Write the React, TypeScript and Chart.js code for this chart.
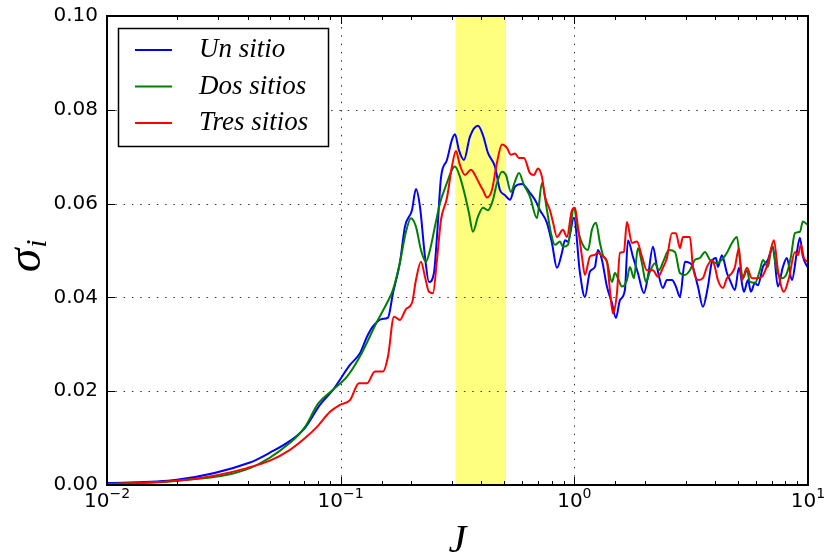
import React, { useEffect, useRef } from "react";
import { Chart, registerables } from "chart.js";

Chart.register(...registerables);

const seriesLabels = ["Un sitio", "Dos sitios", "Tres sitios"];
const seriesColors = ["#0000ff", "#008000", "#ff0000"];

const jUn = [0.0100,0.0199,0.0409,0.0498,0.0607,0.0704,0.0815,0.0927,0.1096,0.1209,0.1296,0.1375,0.1502,0.1594,0.1674,0.1794,0.1884,0.2019,0.2100,0.2185,0.2295,0.2387,0.2507,0.2583,0.2687,0.2850,0.2994,0.3084,0.3207,0.3370,0.3575,0.3869,0.4064,0.4269,0.4574,0.4805,0.5047,0.5302,0.5569,0.5967,0.6457,0.6783,0.7126,0.7635,0.8021,0.8425,0.8850,0.9117,0.9389,0.9961,1.057,1.110,1.166,1.225,1.262,1.313,1.379,1.449,1.507,1.567,1.646,1.696,1.781,1.871,1.986,2.065,2.170,2.258,2.394,2.490,2.616,2.722,2.831,2.974,3.186,3.380,3.551,3.730,3.880,4.036,4.116,4.281,4.498,4.633,4.867,5.062,5.318,5.532,5.699,5.927,6.105,6.412,6.736,7.076,7.434,7.810,8.124,8.534,8.964,9.234,9.510,10];
const sigmaUn = [0.0004,0.0011,0.0048,0.0069,0.0094,0.0122,0.0171,0.0203,0.0256,0.0281,0.0316,0.0338,0.0354,0.0357,0.0409,0.0475,0.0551,0.0586,0.0631,0.0593,0.0487,0.0433,0.0452,0.0529,0.0655,0.0693,0.0736,0.0748,0.0714,0.0693,0.0743,0.0766,0.0746,0.0708,0.0679,0.0629,0.0618,0.0608,0.0636,0.0642,0.0623,0.0608,0.0586,0.0559,0.0516,0.0463,0.0495,0.0522,0.0519,0.0570,0.0452,0.0401,0.0455,0.0465,0.0501,0.0480,0.0423,0.0388,0.0356,0.0394,0.0416,0.0522,0.0487,0.0452,0.0409,0.0444,0.0508,0.0465,0.0420,0.0437,0.0437,0.0423,0.0401,0.0476,0.0469,0.0423,0.0380,0.0423,0.0476,0.0484,0.0465,0.0490,0.0452,0.0437,0.0416,0.0463,0.0412,0.0437,0.0412,0.0431,0.0426,0.0465,0.0480,0.0508,0.0423,0.0465,0.0484,0.0437,0.0497,0.0527,0.0487,0.0463];

const jDos = [0.0100,0.0199,0.0409,0.0607,0.0704,0.0799,0.0927,0.1064,0.1209,0.1430,0.1578,0.1674,0.1794,0.1903,0.1999,0.2100,0.2206,0.2317,0.2411,0.2532,0.2660,0.2850,0.2994,0.3084,0.3239,0.3403,0.3540,0.3682,0.3869,0.4064,0.4269,0.4485,0.4665,0.4900,0.5097,0.5354,0.5569,0.5793,0.6085,0.6457,0.6918,0.7268,0.7635,0.7942,0.8260,0.8678,0.8938,0.9389,0.9961,1.036,1.088,1.144,1.189,1.237,1.287,1.326,1.379,1.449,1.492,1.537,1.598,1.679,1.729,1.799,1.871,1.947,2.025,2.106,2.213,2.301,2.418,2.540,2.695,2.831,2.974,3.124,3.282,3.448,3.622,3.804,4.076,4.281,4.498,4.725,4.964,5.112,5.265,5.478,5.642,5.927,6.226,6.412,6.736,7.006,7.361,7.733,8.124,8.451,8.790,9.234,9.510,10];
const sigmaDos = [0.0002,0.0009,0.0036,0.0090,0.0124,0.0173,0.0203,0.0231,0.0274,0.0348,0.0388,0.0416,0.0475,0.0540,0.0569,0.0551,0.0501,0.0476,0.0501,0.0551,0.0601,0.0644,0.0672,0.0679,0.0657,0.0618,0.0580,0.0540,0.0572,0.0591,0.0586,0.0608,0.0644,0.0668,0.0661,0.0625,0.0647,0.0665,0.0640,0.0615,0.0569,0.0644,0.0586,0.0537,0.0512,0.0519,0.0508,0.0512,0.0591,0.0544,0.0512,0.0501,0.0544,0.0559,0.0516,0.0490,0.0476,0.0433,0.0452,0.0441,0.0423,0.0437,0.0465,0.0441,0.0505,0.0473,0.0433,0.0455,0.0473,0.0458,0.0480,0.0501,0.0497,0.0452,0.0448,0.0458,0.0480,0.0484,0.0497,0.0480,0.0473,0.0480,0.0495,0.0516,0.0529,0.0480,0.0441,0.0458,0.0433,0.0431,0.0458,0.0480,0.0465,0.0508,0.0458,0.0441,0.0452,0.0487,0.0537,0.0540,0.0562,0.0554];

const jTres = [0.0100,0.0199,0.0296,0.0397,0.0498,0.0607,0.0704,0.0792,0.0900,0.0993,0.1096,0.1198,0.1296,0.1402,0.1517,0.1594,0.1691,0.1794,0.1903,0.2019,0.2100,0.2206,0.2295,0.2387,0.2483,0.2583,0.2687,0.2850,0.2994,0.3114,0.3239,0.3403,0.3611,0.3756,0.3947,0.4064,0.4228,0.4440,0.4665,0.4900,0.5147,0.5354,0.5569,0.5793,0.6085,0.6457,0.6716,0.6987,0.7268,0.7486,0.7864,0.8100,0.8425,0.8938,0.9297,0.9768,1.006,1.036,1.078,1.110,1.166,1.213,1.262,1.326,1.379,1.420,1.463,1.522,1.567,1.630,1.679,1.764,1.853,1.947,2.045,2.170,2.279,2.394,2.490,2.616,2.722,2.831,2.916,3.124,3.218,3.380,3.551,3.694,3.880,3.996,4.116,4.324,4.498,4.725,4.867,5.062,5.214,5.478,5.754,6.045,6.350,6.736,7.146,7.434,7.888,8.286,8.790,9.053,9.324,9.605,10];
const sigmaTres = [0.0002,0.0009,0.0021,0.0036,0.0052,0.0075,0.0100,0.0124,0.0156,0.0171,0.0181,0.0217,0.0217,0.0242,0.0242,0.0274,0.0359,0.0352,0.0375,0.0388,0.0437,0.0476,0.0444,0.0412,0.0409,0.0480,0.0565,0.0612,0.0679,0.0712,0.0682,0.0661,0.0672,0.0661,0.0640,0.0629,0.0613,0.0629,0.0687,0.0726,0.0719,0.0704,0.0707,0.0697,0.0697,0.0665,0.0661,0.0675,0.0657,0.0615,0.0586,0.0561,0.0529,0.0544,0.0529,0.0586,0.0591,0.0551,0.0487,0.0448,0.0487,0.0490,0.0495,0.0487,0.0476,0.0416,0.0366,0.0409,0.0495,0.0497,0.0561,0.0516,0.0519,0.0487,0.0458,0.0458,0.0444,0.0463,0.0484,0.0537,0.0537,0.0505,0.0529,0.0529,0.0465,0.0437,0.0441,0.0465,0.0480,0.0465,0.0437,0.0420,0.0441,0.0452,0.0465,0.0505,0.0437,0.0463,0.0441,0.0441,0.0444,0.0473,0.0522,0.0458,0.0412,0.0441,0.0497,0.0490,0.0512,0.0484,0.0476];

const bandRange = [0.31, 0.51];
const xRange = [0.01, 10];
const yRange = [0, 0.1];
const yStep = 0.02;
const xTitle = "J";
const yTitleMain = "σ";
const yTitleSub = "i";

function zip(xs: number[], ys: number[]) {
  const n = Math.min(xs.length, ys.length);
  const out: { x: number; y: number }[] = [];
  for (let i = 0; i < n; i++) out.push({ x: xs[i], y: ys[i] });
  return out;
}

const isMajor = (v: number) => Math.abs(Math.log10(v) - Math.round(Math.log10(v))) < 1e-6;

const decorPlugin = {
  id: "mplDecor",
  beforeDatasetsDraw(chart: any) {
    const { ctx, chartArea, scales } = chart;
    const { left, right, top, bottom } = chartArea;
    const x = scales.x, y = scales.y;
    ctx.save();
    const x0 = x.getPixelForValue(bandRange[0]);
    const x1 = x.getPixelForValue(bandRange[1]);
    ctx.fillStyle = "rgba(255,255,0,0.5)";
    ctx.fillRect(x0, top, x1 - x0, bottom - top);
    ctx.strokeStyle = "rgba(0,0,0,0.8)";
    ctx.lineWidth = 1;
    ctx.setLineDash([1.5, 6.8]);
    x.ticks.forEach((t: any) => {
      if (!isMajor(t.value)) return;
      const px = Math.round(x.getPixelForValue(t.value)) + 0.5;
      if (px <= left + 2 || px >= right - 2) return;
      ctx.beginPath();
      ctx.moveTo(px, bottom);
      ctx.lineTo(px, top);
      ctx.stroke();
    });
    y.ticks.forEach((t: any) => {
      const py = Math.round(y.getPixelForValue(t.value)) + 0.5;
      if (py <= top + 2 || py >= bottom - 2) return;
      ctx.beginPath();
      ctx.moveTo(left, py);
      ctx.lineTo(right, py);
      ctx.stroke();
    });
    ctx.restore();
  },
  afterDatasetsDraw(chart: any) {
    const { ctx, chartArea, scales } = chart;
    const { left, right, top, bottom } = chartArea;
    const x = scales.x, y = scales.y;
    ctx.save();
    ctx.strokeStyle = "#000";
    ctx.lineWidth = 1;
    ctx.setLineDash([]);
    x.ticks.forEach((t: any) => {
      const px = Math.round(x.getPixelForValue(t.value)) + 0.5;
      const len = isMajor(t.value) ? 8 : 4;
      ctx.beginPath();
      ctx.moveTo(px, bottom);
      ctx.lineTo(px, bottom - len);
      ctx.moveTo(px, top);
      ctx.lineTo(px, top + len);
      ctx.stroke();
    });
    y.ticks.forEach((t: any) => {
      const py = Math.round(y.getPixelForValue(t.value)) + 0.5;
      ctx.beginPath();
      ctx.moveTo(left, py);
      ctx.lineTo(left + 8, py);
      ctx.moveTo(right, py);
      ctx.lineTo(right - 8, py);
      ctx.stroke();
    });
    ctx.lineWidth = 2;
    ctx.strokeRect(left, top, right - left, bottom - top);
    ctx.restore();
  },
  afterDraw(chart: any) {
    const { ctx, chartArea, scales } = chart;
    const { left, right, top, bottom } = chartArea;
    const x = scales.x;
    ctx.save();
    ctx.fillStyle = "#000";
    // x tick labels with superscript exponents
    x.ticks.forEach((t: any) => {
      if (!isMajor(t.value)) return;
      const e = Math.round(Math.log10(t.value));
      const base = "10";
      const exp = e < 0 ? "\u2212" + String(-e) : String(e);
      const px = x.getPixelForValue(t.value);
      ctx.font = "20px 'DejaVu Sans'";
      const wb = ctx.measureText(base).width;
      ctx.font = "14px 'DejaVu Sans'";
      const we = ctx.measureText(exp).width;
      const start = px - (wb + we) / 2;
      ctx.textAlign = "left";
      ctx.textBaseline = "alphabetic";
      ctx.font = "20px 'DejaVu Sans'";
      ctx.fillText(base, start, bottom + 22);
      ctx.font = "14px 'DejaVu Sans'";
      ctx.fillText(exp, start + wb, bottom + 13);
    });
    // x title
    ctx.font = "italic 40px 'Liberation Serif'";
    ctx.textAlign = "center";
    ctx.fillText(xTitle, (left + right) / 2, 552);
    // y title rotated
    ctx.save();
    ctx.translate(40, (top + bottom) / 2 + 4);
    ctx.rotate(-Math.PI / 2);
    ctx.font = "italic 48px 'Liberation Serif'";
    ctx.textAlign = "left";
    const ws = ctx.measureText(yTitleMain).width;
    ctx.fillText(yTitleMain, -ws / 2 - 6, 0);
    ctx.font = "italic 30px 'Liberation Serif'";
    ctx.fillText(yTitleSub, ws / 2 - 5, 6);
    ctx.restore();
    // legend
    const bx = 118.5, by = 28.5, bw = 210, bh = 118;
    ctx.fillStyle = "#fff";
    ctx.fillRect(bx, by, bw, bh);
    ctx.strokeStyle = "#000";
    ctx.lineWidth = 1.5;
    ctx.strokeRect(bx, by, bw, bh);
    chart.data.datasets.forEach((ds: any, i: number) => {
      const ly = 50 + i * 36.5;
      ctx.strokeStyle = ds.borderColor;
      ctx.lineWidth = 2;
      ctx.beginPath();
      ctx.moveTo(135, ly);
      ctx.lineTo(172, ly);
      ctx.stroke();
      ctx.fillStyle = "#000";
      ctx.font = "italic 27px 'Liberation Serif'";
      ctx.textAlign = "left";
      ctx.textBaseline = "alphabetic";
      ctx.fillText(ds.label, 199, ly + 7);
    });
    ctx.restore();
  },
};

export default function App() {
  const ref = useRef<HTMLCanvasElement | null>(null);
  useEffect(() => {
    if (!ref.current) return;
    const series = [zip(jUn, sigmaUn), zip(jDos, sigmaDos), zip(jTres, sigmaTres)];
    const chart = new Chart(ref.current, {
      type: "line",
      data: {
        datasets: series.map((d, i) => ({
          label: seriesLabels[i],
          data: d,
          borderColor: seriesColors[i],
          backgroundColor: seriesColors[i],
          borderWidth: 2,
          pointRadius: 0,
          fill: false,
          cubicInterpolationMode: "monotone" as const,
          order: 3 - i,
        })),
      },
      options: {
        responsive: false,
        animation: false,
        devicePixelRatio: 1,
        parsing: false as any,
        normalized: true,
        layout: { padding: { left: 0, right: 17, top: 16, bottom: 0 } },
        plugins: { legend: { display: false }, tooltip: { enabled: false }, title: { display: false } },
        scales: {
          x: {
            type: "logarithmic",
            min: xRange[0],
            max: xRange[1],
            grid: { display: false },
            border: { display: false },
            ticks: { display: false },
            afterFit: (s: any) => { s.height = 74; },
          },
          y: {
            type: "linear",
            min: yRange[0],
            max: yRange[1],
            grid: { display: false },
            border: { display: false },
            ticks: {
              stepSize: yStep,
              padding: 1,
              color: "#000",
              font: { family: "'DejaVu Sans'", size: 20 },
              callback: (v: any) => Number(v).toFixed(2),
            },
            afterFit: (s: any) => { s.width = 107; },
          },
        },
      },
      plugins: [decorPlugin],
    });
    return () => chart.destroy();
  }, []);
  return (
    <div style={{ position: "fixed", left: 0, top: 0, width: 825, height: 559, background: "#fff" }}>
      <canvas ref={ref} width={825} height={559} style={{ display: "block" }} />
    </div>
  );
}
